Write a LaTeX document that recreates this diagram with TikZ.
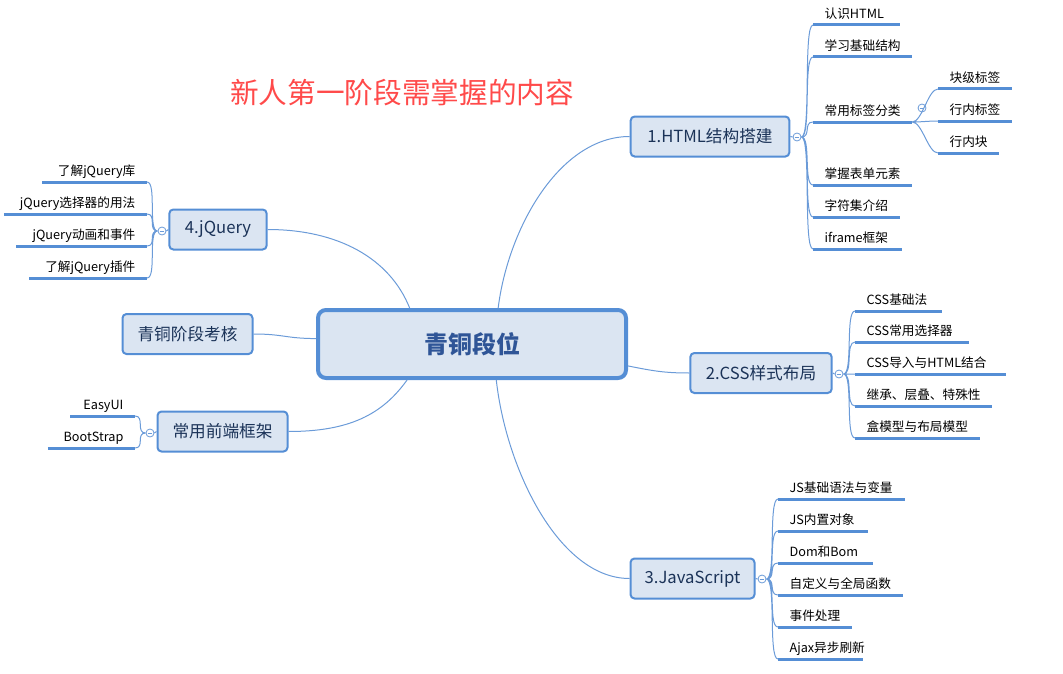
\documentclass[tikz,border=0pt]{standalone}
\usepackage{fontspec}
\setmainfont{Noto Sans CJK SC}
\usepackage{tikz}
\definecolor{mmfill}{HTML}{DBE5F2}
\definecolor{mmborder}{HTML}{558ED5}
\definecolor{mmline}{HTML}{6B9BD8}
\definecolor{mmtext}{HTML}{1B3358}
\definecolor{mmhub}{HTML}{2F5597}
\definecolor{mmtitle}{HTML}{FF4A4A}
\tikzstyle{hub} = [rectangle, rounded corners=6pt, minimum width=231pt, minimum height=51pt, draw=mmborder, line width=3pt, fill=mmfill, text=mmhub, font=\fontsize{18}{20}\selectfont\bfseries]
\tikzstyle{topic} = [rectangle, rounded corners=3pt, minimum height=30pt, draw=mmborder, line width=1.5pt, fill=mmfill, text=mmtext, font=\fontsize{12.5}{14}\selectfont]
\tikzstyle{uline} = [draw=mmborder, line width=2.25pt]
\tikzstyle{leaf} = [anchor=south west, align=left, inner xsep=8.5pt, inner ysep=3pt, text height=8pt, text depth=2pt, font=\fontsize{9.5}{11}\selectfont, append after command={(\tikzlastnode.south west) edge[uline] (\tikzlastnode.south east)}]
\tikzstyle{lleaf} = [leaf, anchor=south east, align=right]
\tikzstyle{fold} = [circle, draw=mmline, fill=white, line width=0.6pt, minimum size=6pt, inner sep=0pt, path picture={\draw[mmline, line width=0.6pt] ([xshift=-1.8pt]path picture bounding box.center) -- ([xshift=1.8pt]path picture bounding box.center);}]
\tikzstyle{link} = [draw=mmline, line width=0.75pt]
\tikzstyle{twigr} = [link, to path={.. controls +(10,0) and +(-10,0) .. (\tikztotarget)}]
\tikzstyle{twigl} = [link, to path={.. controls +(-10,0) and +(10,0) .. (\tikztotarget)}]
\begin{document}
\begin{tikzpicture}[x=0.75pt, y=-0.75pt]
\useasboundingbox (0,0) rectangle (1063,674);

\node (title) [text=mmtitle, font=\fontsize{21.5}{24}\selectfont] at (402,93) {新人第一阶段需掌握的内容};

\node (c) [hub] at (472,344) {青铜段位};

\node (b1) [topic, minimum width=119pt] at (710,136.5) {1.HTML结构搭建};
\node (b2) [topic, minimum width=106pt] at (761,373) {2.CSS样式布局};
\node (b3) [topic, minimum width=93pt] at (692.5,578.5) {3.JavaScript};
\node (b4) [topic, minimum width=73pt] at (218,229.5) {4.jQuery};
\node (q) [topic, minimum width=97.5pt] at (187.5,334) {青铜阶段考核};
\node (fw) [topic, minimum width=97.5pt] at (222.5,431.5) {常用前端框架};

\node (f1) [fold] at (797,137) {};
\node (f2) [fold] at (839,374) {};
\node (f3) [fold] at (762,579) {};
\node (f4) [fold] at (162,231) {};
\node (f5) [fold] at (150,433) {};
\node (f6) [fold] at (922,108) {};

\node (h1) [leaf, text width=47.5pt] at (813,25) {认识HTML};
\node (h2) [leaf] at (813,57) {学习基础结构};
\node (h3) [leaf] at (813,122) {常用标签分类};
\node (h4) [leaf] at (813,185) {掌握表单元素};
\node (h5) [leaf] at (813,217) {字符集介绍};
\node (h6) [leaf, text width=49pt] at (813,249) {iframe框架};

\node (s1) [leaf] at (938,89) {块级标签};
\node (s2) [leaf] at (938,121) {行内标签};
\node (s3) [leaf] at (938,153) {行内块};

\node (k1) [leaf, text width=48pt] at (855,311) {CSS基础法};
\node (k2) [leaf, text width=68pt] at (855,342) {CSS常用选择器};
\node (k3) [leaf, text width=95.5pt] at (855,374) {CSS导入与HTML结合};
\node (k4) [leaf] at (855,406) {继承、层叠、特殊性};
\node (k5) [leaf] at (855,438) {盒模型与布局模型};

\node (j1) [leaf, text width=78pt] at (778,499) {JS基础语法与变量};
\node (j2) [leaf, text width=50pt] at (778,531) {JS内置对象};
\node (j3) [leaf, text width=54pt] at (778,563) {Dom和Bom};
\node (j4) [leaf] at (778,595) {自定义与全局函数};
\node (j5) [leaf] at (778,627) {事件处理};
\node (j6) [leaf, text width=46pt] at (778,659) {Ajax异步刷新};

\node (q1) [lleaf, text width=61pt] at (147,182) {了解jQuery库};
\node (q2) [lleaf, text width=90pt] at (147,214) {jQuery选择器的用法};
\node (q3) [lleaf, text width=80.5pt] at (147,246) {jQuery动画和事件};
\node (q4) [lleaf, text width=71pt] at (147,278) {了解jQuery插件};

\node (e1) [lleaf, text width=31pt] at (135,416) {EasyUI};
\node (e2) [lleaf, text width=48pt] at (135,448) {BootStrap};

\draw [link] (c.54) .. controls +(10,-80) and +(-70,0) .. (b1.west);
\draw [link] (c.352) .. controls +(25,5) and +(-25,0) .. (b2.west);
\draw [link] (c.304) .. controls +(10,90) and +(-70,0) .. (b3.west);
\draw [link] (c.150) .. controls +(-20,-50) and +(70,0) .. (b4.east);
\draw [link] (c.178) .. controls +(-30,0) and +(30,0) .. (q.east);
\draw [link] (c.209) .. controls +(-25,35) and +(60,0) .. (fw.east);

\draw [link] (b1.east) -- (f1.west);
\draw [link] (b2.east) -- (f2.west);
\draw [link] (b3.east) -- (f3.west);
\draw [link] (b4.west) -- (f4.east);
\draw [link] (fw.west) -- (f5.east);

\draw [twigr] (f1.east) to (h1.south west) (f1.east) to (h2.south west) (f1.east) to (h3.south west)
  (f1.east) to (h4.south west) (f1.east) to (h5.south west) (f1.east) to (h6.south west);
\draw [twigr] (h3.south east) to (s1.south west) (h3.south east) to (s2.south west) (h3.south east) to (s3.south west);
\draw [twigr] (f2.east) to (k1.south west) (f2.east) to (k2.south west) (f2.east) to (k3.south west)
  (f2.east) to (k4.south west) (f2.east) to (k5.south west);
\draw [twigr] (f3.east) to (j1.south west) (f3.east) to (j2.south west) (f3.east) to (j3.south west)
  (f3.east) to (j4.south west) (f3.east) to (j5.south west) (f3.east) to (j6.south west);
\draw [twigl] (f4.west) to (q1.south east) (f4.west) to (q2.south east) (f4.west) to (q3.south east) (f4.west) to (q4.south east);
\draw [twigl] (f5.west) to (e1.south east) (f5.west) to (e2.south east);

\end{tikzpicture}
\end{document}
